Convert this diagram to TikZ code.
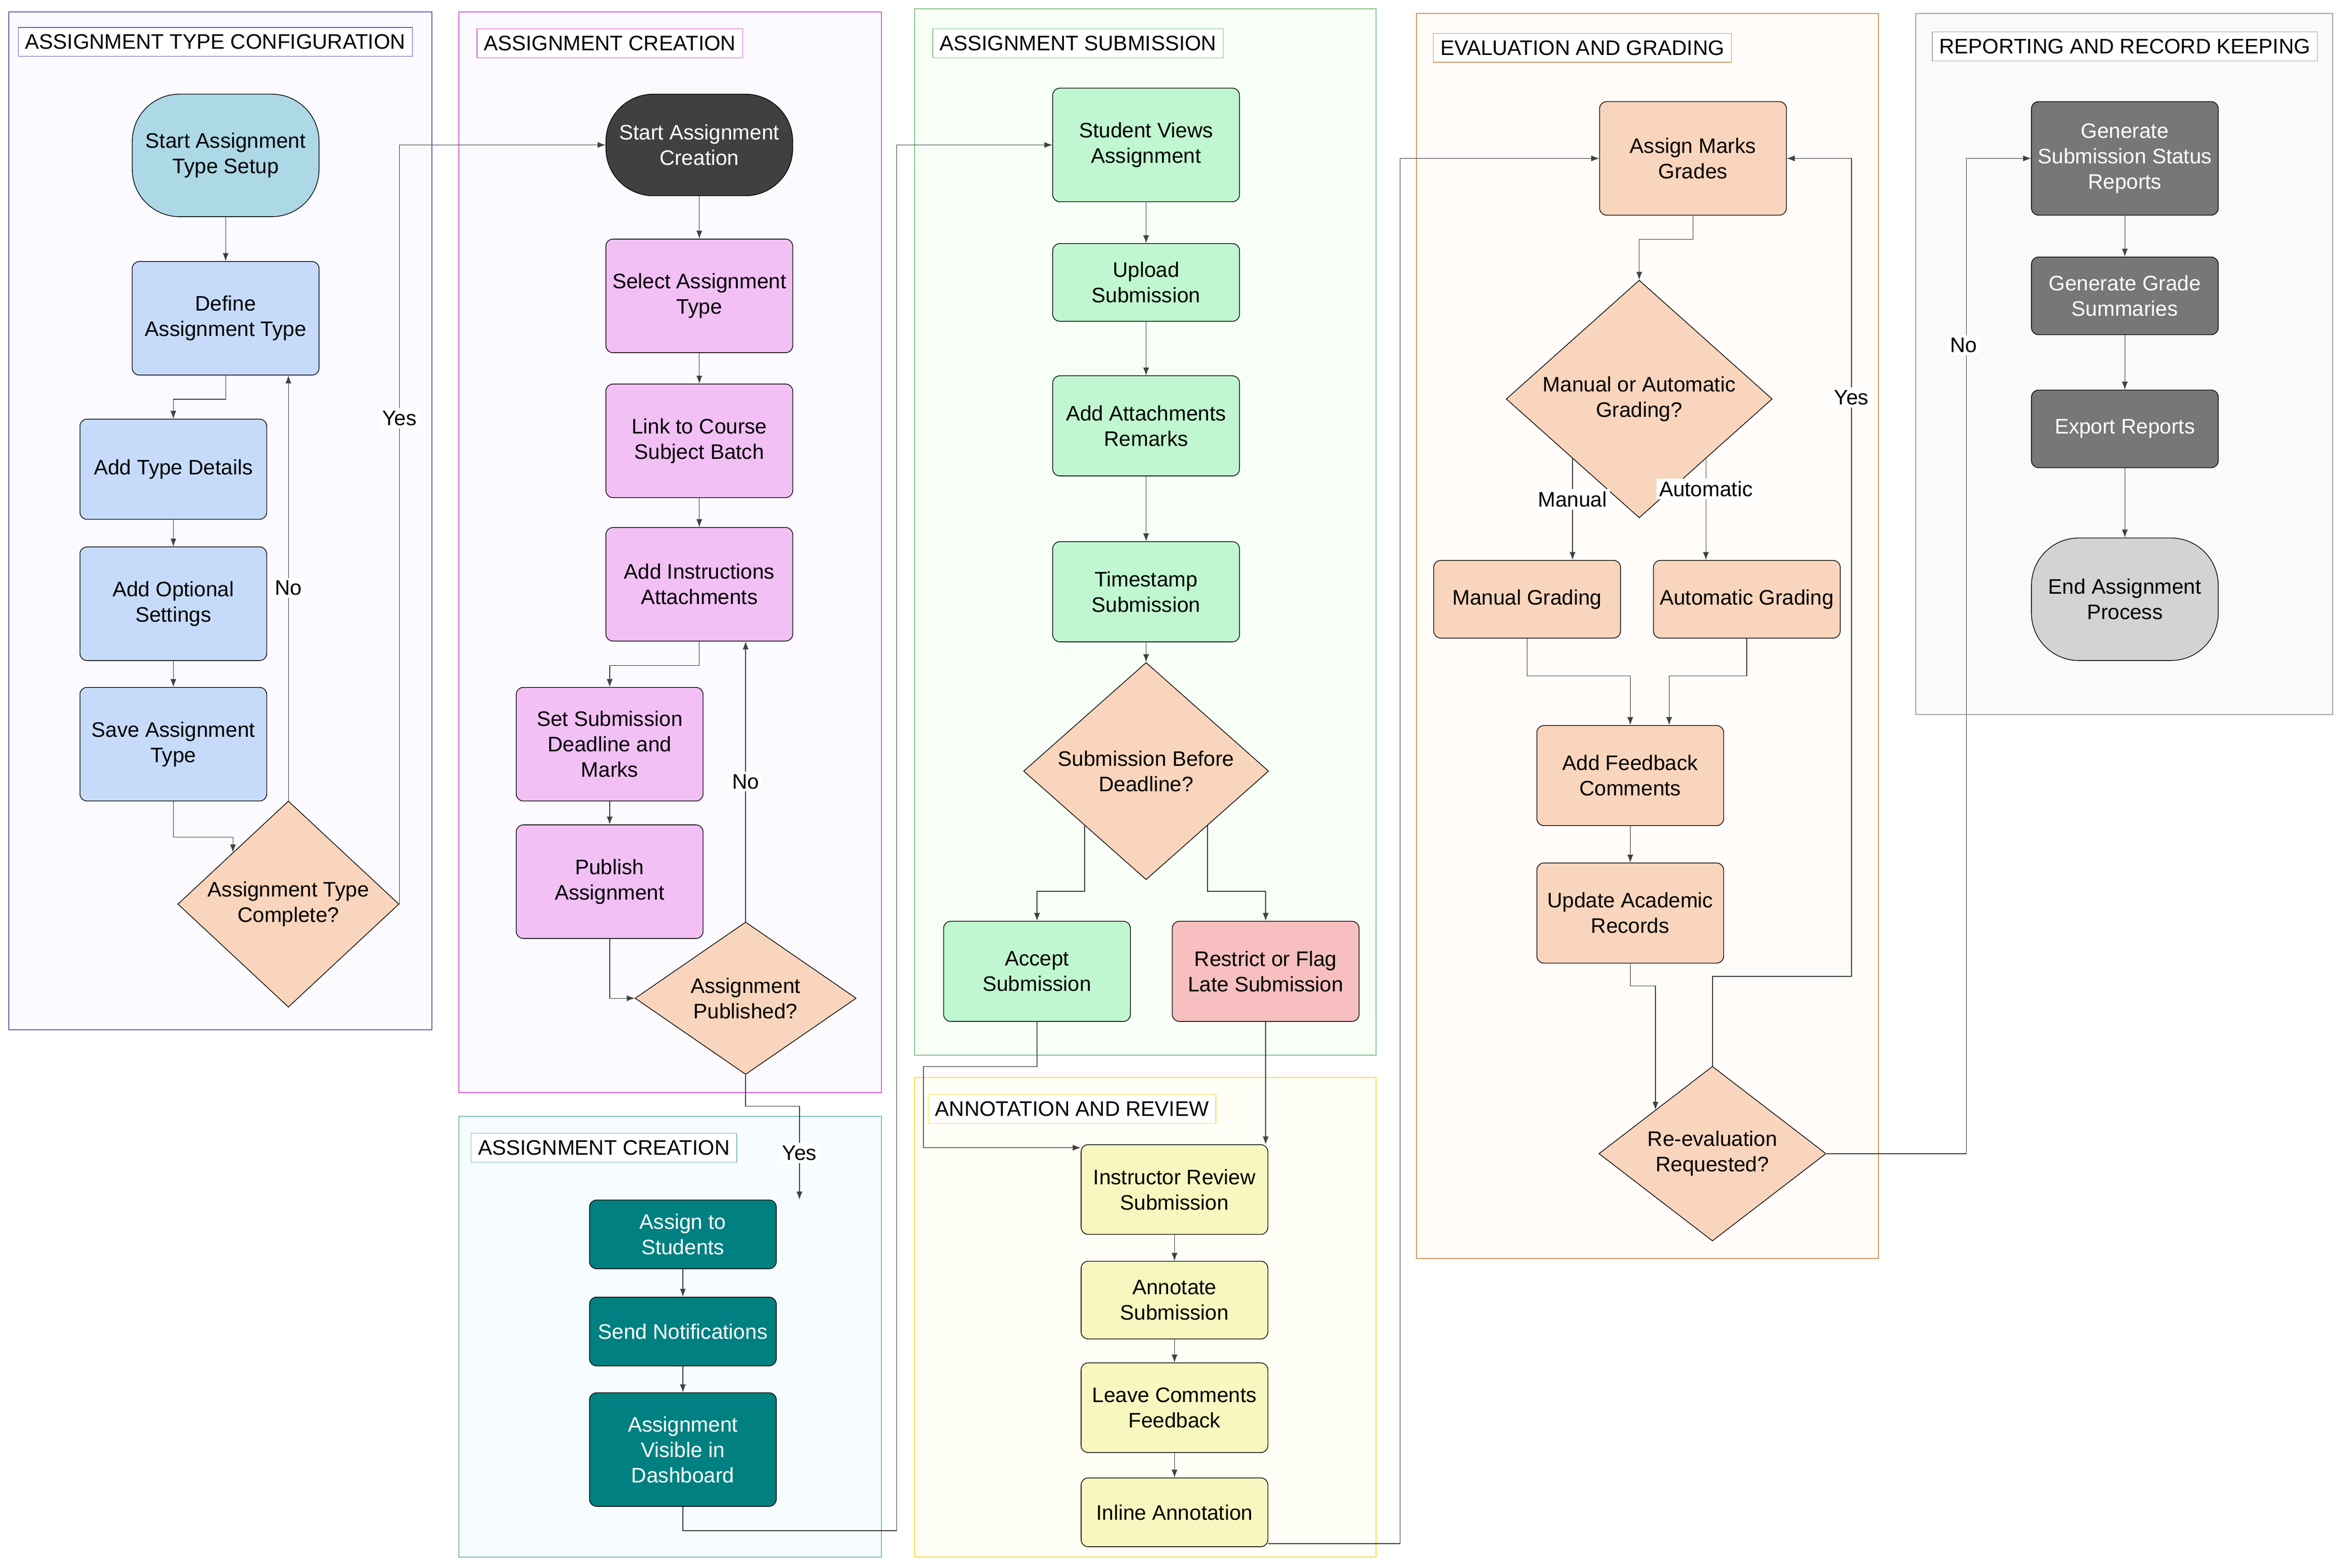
\documentclass[tikz,border=0pt]{standalone}
\usepackage{fontspec}
\setmainfont{Liberation Sans}
\usetikzlibrary{arrows.meta,shapes.geometric}

\definecolor{startblue}{HTML}{ADD8E6}
\definecolor{cfgblue}{HTML}{C6DBFA}
\definecolor{peach}{HTML}{F8D5BC}
\definecolor{pinkbox}{HTML}{F2C0F5}
\definecolor{darkbox}{HTML}{404040}
\definecolor{tealbox}{HTML}{008080}
\definecolor{greenbox}{HTML}{C1F7D0}
\definecolor{redbox}{HTML}{F7BFBF}
\definecolor{yellowbox}{HTML}{F7F7BF}
\definecolor{graybox}{HTML}{777777}
\definecolor{endgray}{HTML}{D3D3D3}

\tikzset{
  lane/.style 2 args={draw=#1, fill=#2, line width=0.6pt},
  lanetitle/.style={draw=#1, fill=white, anchor=west, inner sep=4pt, font=\fontsize{12}{14}\selectfont},
  box/.style 2 args={draw=black, rounded corners=4pt, align=center, fill=#1,
    minimum width=3.75cm, minimum height=#2, inner sep=2pt,
    font=\fontsize{12}{14.5}\selectfont},
  term/.style 2 args={box={#1}{#2}, rounded corners=0.95cm},
  dec/.style 2 args={draw=black, diamond, fill=peach, align=center, inner sep=0pt,
    minimum width=#1, minimum height=#2, font=\fontsize{12}{14.5}\selectfont},
  flow/.style={draw=black!75, line width=0.4pt, -{Latex[length=1.6mm,width=1.2mm]}},
  lbl/.style={fill=white, inner sep=1.5pt, font=\fontsize{12}{14}\selectfont}
}

\begin{document}
\begin{tikzpicture}[x=0.03cm, y=-0.03cm]
\useasboundingbox (0,0) rectangle (1568,1049);

% lanes
\draw[lane={blue!60!black!60}{blue!2}] (6,8) rectangle (289,689);
\draw[lane={violet!50!magenta!60}{blue!2}] (307,8) rectangle (590,731);
\draw[lane={teal!50}{cyan!3}] (307,747) rectangle (590,1042);
\draw[lane={green!50!black!45}{green!3}] (612,6) rectangle (921,706);
\draw[lane={yellow!70!orange!70}{yellow!3}] (612,721) rectangle (921,1042);
\draw[lane={orange!70!black!60}{orange!2}] (948,9) rectangle (1257,842);
\draw[lane={black!35}{black!2}] (1282,9) rectangle (1561,478);

\node[lanetitle={blue!60!black!60}] (t1) at (12,28) {ASSIGNMENT TYPE CONFIGURATION};
\node[lanetitle={violet!50!magenta!60}] (t2) at (319,29) {ASSIGNMENT CREATION};
\node[lanetitle={teal!50}] (t3) at (315,768) {ASSIGNMENT CREATION};
\node[lanetitle={green!50!black!45}] (t4) at (624,29) {ASSIGNMENT SUBMISSION};
\node[lanetitle={yellow!70!orange!70}] (t5) at (621,742) {ANNOTATION AND REVIEW};
\node[lanetitle={orange!70!black!60}] (t6) at (959,32) {EVALUATION AND GRADING};
\node[lanetitle={black!35}] (t7) at (1293,31) {REPORTING AND RECORD KEEPING};

% configuration
\node[term={startblue}{2.46cm}] (start1) at (151,104) {Start Assignment\\Type Setup};
\node[box={cfgblue}{2.28cm}] (define) at (151,213) {Define\\Assignment Type};
\node[box={cfgblue}{2.01cm}] (typedet) at (116,314) {Add Type Details};
\node[box={cfgblue}{2.28cm}] (optset) at (116,404) {Add Optional\\Settings};
\node[box={cfgblue}{2.28cm}] (save) at (116,498) {Save Assignment\\Type};
\node[dec={4.44cm}{3.06cm}] (dec1) at (193,605) {Assignment Type\\Complete?};

% creation
\node[term={darkbox}{2.04cm}, text=white] (start2) at (468,97) {Start Assignment\\Creation};
\node[box={pinkbox}{2.28cm}] (select) at (468,198) {Select Assignment\\Type};
\node[box={pinkbox}{2.28cm}] (link) at (468,295) {Link to Course\\Subject Batch};
\node[box={pinkbox}{2.28cm}] (instr) at (468,391) {Add Instructions\\Attachments};
\node[box={pinkbox}{2.28cm}] (setsub) at (408,498) {Set Submission\\Deadline and\\Marks};
\node[box={pinkbox}{2.28cm}] (publish) at (408,590) {Publish\\Assignment};
\node[dec={4.44cm}{3.06cm}] (dec2) at (499,668) {Assignment\\Published?};

\node[box={tealbox}{1.38cm}, text=white] (assign) at (457,826) {Assign to\\Students};
\node[box={tealbox}{1.38cm}, text=white] (notif) at (457,891) {Send Notifications};
\node[box={tealbox}{2.28cm}, text=white] (visible) at (457,970) {Assignment\\Visible in\\Dashboard};

% submission
\node[box={greenbox}{2.28cm}] (views) at (767,97) {Student Views\\Assignment};
\node[box={greenbox}{1.56cm}] (upload) at (767,189) {Upload\\Submission};
\node[box={greenbox}{2.01cm}] (attach) at (767,285) {Add Attachments\\Remarks};
\node[box={greenbox}{2.01cm}] (tstamp) at (767,396) {Timestamp\\Submission};
\node[dec={4.92cm}{3.36cm}] (dec3) at (767,516) {Submission Before\\Deadline?};
\node[box={greenbox}{2.01cm}] (accept) at (694,650) {Accept\\Submission};
\node[box={redbox}{2.01cm}] (restrict) at (847,650) {Restrict or Flag\\Late Submission};

% annotation
\node[box={yellowbox}{1.8cm}] (review) at (786,796) {Instructor Review\\Submission};
\node[box={yellowbox}{1.56cm}] (annot) at (786,870) {Annotate\\Submission};
\node[box={yellowbox}{1.8cm}] (leave) at (786,942) {Leave Comments\\Feedback};
\node[box={yellowbox}{1.38cm}] (inline) at (786,1012) {Inline Annotation};

% evaluation
\node[box={peach}{2.28cm}] (marks) at (1133,106) {Assign Marks\\Grades};
\node[dec={5.34cm}{3.84cm}] (dec4) at (1097,267) {Manual or Automatic\\Grading?};
\node[box={peach}{1.56cm}] (manual) at (1022,401) {Manual Grading};
\node[box={peach}{1.56cm}] (auto) at (1169,401) {Automatic Grading};
\node[box={peach}{2.01cm}] (feedback) at (1091,519) {Add Feedback\\Comments};
\node[box={peach}{2.01cm}] (update) at (1091,611) {Update Academic\\Records};
\node[dec={4.56cm}{3.12cm}] (dec5) at (1146,772) {Re-evaluation\\Requested?};

% reporting
\node[box={graybox}{2.28cm}, text=white] (gensub) at (1422,106) {Generate\\Submission Status\\Reports};
\node[box={graybox}{1.56cm}, text=white] (gengrade) at (1422,198) {Generate Grade\\Summaries};
\node[box={graybox}{1.56cm}, text=white] (export) at (1422,287) {Export Reports};
\node[term={endgray}{2.46cm}] (end) at (1422,401) {End Assignment\\Process};

% connectors
\draw[flow] (start1) -- (define);
\draw[flow] (define.south) -- ++(0,16) -| (typedet.north);
\draw[flow] (typedet) -- (optset);
\draw[flow] (optset) -- (save);
\draw[flow] (save.south) -- ++(0,24) -| (dec1.north west);
\draw[flow] (dec1.north) -- node[lbl]{No} (dec1.north |- define.south);
\draw[flow] (dec1.east) -- node[lbl, pos=0.64]{Yes} (dec1.east |- start2.west) -- (start2.west);

\draw[flow] (start2) -- (select);
\draw[flow] (select) -- (link);
\draw[flow] (link) -- (instr);
\draw[flow] (instr.south) -- ++(0,16) -| (setsub.north);
\draw[flow] (setsub) -- (publish);
\draw[flow] (publish.south) |- (dec2.west);
\draw[flow] (dec2.north) -- node[lbl]{No} (dec2.north |- instr.south);
\draw[flow] (dec2.south) -- ++(0,21) -| node[lbl, pos=0.75]{Yes} ([xshift=2.34cm]assign.north);

\draw[flow] (assign) -- (notif);
\draw[flow] (notif) -- (visible);
\draw[flow] (visible.south) -- ++(0,16) -| (600,97) -- (views.west);

\draw[flow] (views) -- (upload);
\draw[flow] (upload) -- (attach);
\draw[flow] (attach) -- (tstamp);
\draw[flow] (tstamp) -- (dec3);
\draw[flow] (dec3.south west) -- ++(0,44) -| (accept.north);
\draw[flow] (dec3.south east) -- ++(0,44) -| (restrict.north);
\draw[flow] (accept.south) -- ++(0,30) -| (618,768) -- ([yshift=0.84cm]review.west);
\draw[flow] (restrict.south) -- (restrict.south |- review.north);

\draw[flow] (review) -- (annot);
\draw[flow] (annot) -- (leave);
\draw[flow] (leave) -- (inline);
\draw[flow] ([yshift=-0.63cm]inline.east) -| (937,106) -- (marks.west);

\draw[flow] (marks.south) -- ++(0,16) -| (dec4.north);
\draw[flow] (dec4.south west) -- node[lbl, pos=0.4]{Manual} (dec4.south west |- manual.north);
\draw[flow] (dec4.south east) -- node[lbl, pos=0.3]{Automatic} (dec4.south east |- auto.north);
\draw[flow] (manual.south) -- ++(0,25) -| (feedback.north);
\draw[flow] (auto.south) -- ++(0,25) -| ([xshift=0.78cm]feedback.north);
\draw[flow] (feedback) -- (update);
\draw[flow] (update.south) -- ++(0,15) -| (dec5.north west);
\draw[flow] (dec5.north) -- ++(0,-60) -| (1239,106) -- (marks.east);
\node[lbl] (yes5) at (1239,266) {Yes};
\draw[flow] (dec5.east) -| (1316,106) -- (gensub.west);
\node[lbl] (no5) at (1314,231) {No};

\draw[flow] (gensub) -- (gengrade);
\draw[flow] (gengrade) -- (export);
\draw[flow] (export) -- (end);
\end{tikzpicture}
\end{document}
